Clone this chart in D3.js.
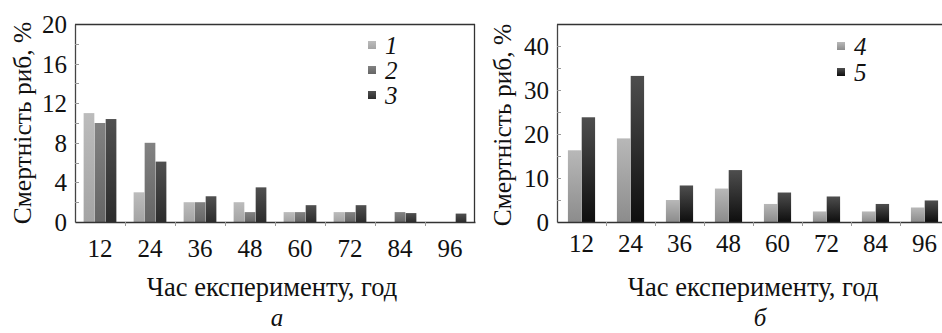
<!DOCTYPE html>
<html>
<head>
<meta charset="utf-8">
<script src="https://cdn.jsdelivr.net/npm/d3@7"></script>
<style>
  body { margin: 0; background: #fff; }
  svg { display: block; }
</style>
</head>
<body>
<div id="chart"></div>
<script>
// hours of experiment
var hours = ["12", "24", "36", "48", "60", "72", "84", "96"];

// panel a
var series1 = [11, 3, 2, 2, 1, 1, 0, 0];
var series2 = [10, 8, 2, 1, 1, 1, 1, 0];
var series3 = [10.4, 6.1, 2.6, 3.5, 1.7, 1.7, 0.9, 0.85];
var yTicksA = [0, 4, 8, 12, 16, 20];
var yMinorA = [2, 6, 10, 14, 18];

// panel b
var series4 = [16.3, 19, 5, 7.6, 4.1, 2.4, 2.4, 3.3];
var series5 = [23.8, 33.2, 8.3, 11.8, 6.7, 5.8, 4.1, 4.9];
var yTicksB = [0, 10, 20, 30, 40];
var yMinorB = [5, 15, 25, 35];

var yTitle = "Смертність риб, %";
var xTitle = "Час експерименту, год";

var FONT = "'Liberation Serif'";
var width = 942, height = 333;

var svg = d3.select("#chart").append("svg")
    .attr("width", width)
    .attr("height", height);

var defs = svg.append("defs");
function grad(id, top, bottom) {
  var g = defs.append("linearGradient").attr("id", id)
      .attr("x1", 0).attr("y1", 0).attr("x2", 0).attr("y2", 1);
  g.append("stop").attr("offset", "0%").attr("stop-color", top);
  g.append("stop").attr("offset", "100%").attr("stop-color", bottom);
}
grad("g1", "#bcbcbc", "#a4a4a4");
grad("g2", "#828282", "#656565");
grad("g3", "#505050", "#2c2c2c");
grad("g4", "#b8b8b8", "#8c8c8c");
grad("g5", "#4e4e4e", "#0e0e0e");

function drawPanel(p) {
  var g = svg.append("g");

  var x0 = d3.scaleBand().domain(hours).range([p.left, p.right]).padding(0);
  var x1 = d3.scaleBand().domain(p.keys).range(p.inner).padding(0.03);
  var y = d3.scaleLinear().domain([0, p.ymax]).range([p.bottom, p.top]);

  // bars
  p.keys.forEach(function(k, si) {
    g.selectAll(".bar" + k)
        .data(p.values[si])
      .enter().append("rect")
        .attr("x", function(d, i) { return x0(hours[i]) + x1(k); })
        .attr("y", function(d) { return y(d); })
        .attr("width", x1.bandwidth())
        .attr("height", function(d) { return p.bottom - y(d); })
        .style("fill", "url(#g" + k + ")");
  });

  // frame top / right
  g.append("line").attr("x1", p.left).attr("x2", p.right)
      .attr("y1", p.top + 0.5).attr("y2", p.top + 0.5)
      .style("stroke", "#333").style("stroke-width", 1.3);
  g.append("line").attr("x1", p.right - 0.5).attr("x2", p.right - 0.5)
      .attr("y1", p.top).attr("y2", p.bottom)
      .style("stroke", "#333").style("stroke-width", 1.3);

  // y axis
  var yAxis = d3.axisLeft(y).tickValues(p.yticks).tickSize(0).tickPadding(8);
  var ya = g.append("g")
      .attr("transform", "translate(" + p.left + ",0)")
      .call(yAxis);
  ya.attr("font-family", null);
  ya.select(".domain").style("stroke", "#444").style("stroke-width", 1.3);
  ya.selectAll("text")
      .style("font-family", FONT).style("font-size", "25px")
      .attr("fill", "#111")
      .attr("dy", "0.34em");

  // inner minor ticks
  g.selectAll(".ytick")
      .data(p.yticks.concat(p.yminor).filter(function(d) { return d > 0 && d < p.ymax; }))
    .enter().append("line")
      .attr("x1", p.left).attr("x2", p.left + 4)
      .attr("y1", function(d) { return Math.round(y(d)) + 0.5; })
      .attr("y2", function(d) { return Math.round(y(d)) + 0.5; })
      .style("stroke", "#999").style("stroke-width", 1);

  // x axis
  var xAxis = d3.axisBottom(x0).tickSize(0);
  var xa = g.append("g")
      .attr("transform", "translate(0," + p.bottom + ")")
      .call(xAxis);
  xa.attr("font-family", null);
  xa.select(".domain").style("stroke", "#333").style("stroke-width", 1.6);
  xa.selectAll("text")
      .style("font-family", FONT).style("font-size", "25px")
      .attr("fill", "#111")
      .attr("y", p.xlabY)
      .attr("dy", "0.34em");

  // separators between categories
  g.selectAll(".xsep")
      .data(hours.slice(1))
    .enter().append("line")
      .attr("x1", function(d) { return x0(d) + 0.5; })
      .attr("x2", function(d) { return x0(d) + 0.5; })
      .attr("y1", p.bottom)
      .attr("y2", p.bottom + 4)
      .style("stroke", "#999");

  // legend
  var lg = g.selectAll(".legend")
      .data(p.keys)
    .enter().append("g")
      .attr("transform", function(d, i) { return "translate(" + p.legX + "," + (p.legY + i * p.legStep) + ")"; });
  lg.append("rect")
      .attr("x", -4).attr("y", -4).attr("width", 8).attr("height", 8)
      .style("fill", function(d) { return "url(#g" + d + ")"; });
  lg.append("text")
      .attr("x", 13)
      .attr("dy", "0.35em")
      .style("font-family", FONT)
      .style("font-size", "25px")
      .style("font-style", "italic")
      .attr("fill", "#111")
      .text(function(d) { return d; });

  // axis titles
  g.append("text")
      .attr("text-anchor", "middle")
      .attr("transform", "translate(" + p.ytitleX + "," + p.ytitleY + ")rotate(-90)")
      .attr("dy", "0.35em")
      .style("font-family", FONT)
      .style("font-size", "25.5px")
      .attr("fill", "#111")
      .text(yTitle);

  g.append("text")
      .attr("text-anchor", "middle")
      .attr("x", p.xtitleX)
      .attr("y", 287)
      .attr("dy", "0.35em")
      .style("font-family", FONT)
      .style("font-size", "26.5px")
      .attr("fill", "#111")
      .text(xTitle);

  g.append("text")
      .attr("text-anchor", "middle")
      .attr("x", p.labelX)
      .attr("y", 317)
      .attr("dy", "0.35em")
      .style("font-family", FONT)
      .style("font-size", "25px")
      .style("font-style", "italic")
      .attr("fill", "#111")
      .text(p.label);
}

drawPanel({
  left: 75, right: 475, top: 24, bottom: 222,
  ymax: 20, yticks: yTicksA, yminor: yMinorA,
  keys: ["1", "2", "3"], values: [series1, series2, series3],
  inner: [8.3, 41.7], xlabY: 26,
  legX: 372, legY: 45, legStep: 25,
  ytitleX: 22, ytitleY: 123, xtitleX: 272, labelX: 277, label: "а"
});

drawPanel({
  left: 557, right: 949, top: 24, bottom: 222,
  ymax: 45, yticks: yTicksB, yminor: yMinorB,
  keys: ["4", "5"], values: [series4, series5],
  inner: [10.5, 38.5], xlabY: 21,
  legX: 841, legY: 46, legStep: 26,
  ytitleX: 502, ytitleY: 125, xtitleX: 753, labelX: 760, label: "б"
});
</script>
</body>
</html>
